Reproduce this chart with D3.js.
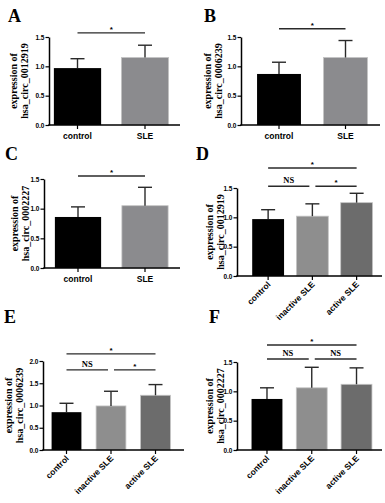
<!DOCTYPE html>
<html><head><meta charset="utf-8">
<script src="https://cdn.jsdelivr.net/npm/d3@7"></script>
<style>html,body{margin:0;padding:0;background:#fff;}svg{display:block;}</style>
</head><body>
<svg id="chart" width="385" height="503"></svg>
<script>
// ---------- data ----------
const catsTwo = ["control", "SLE"];
const catsThree = ["control", "inactive SLE", "active SLE"];
const circIds = ["hsa_circ_0012919", "hsa_circ_0006239", "hsa_circ_0002227", "hsa_circ_0012919", "hsa_circ_0006239", "hsa_circ_0002227"];
const panelLetters = ["A", "B", "C", "D", "E", "F"];
const ticks15 = [0, 0.5, 1.0, 1.5];
const ticks20 = [0, 0.5, 1.0, 1.5, 2.0];
const meanA = [0.97, 1.15], errA = [0.16, 0.21];
const meanB = [0.87, 1.15], errB = [0.20, 0.29];
const meanC = [0.86, 1.05], errC = [0.17, 0.31];
const meanD = [0.97, 1.02, 1.25], errD = [0.16, 0.21, 0.16];
const meanE = [0.85, 0.99, 1.23], errE = [0.20, 0.33, 0.24];
const meanF = [0.87, 1.06, 1.12], errF = [0.19, 0.35, 0.28];
// significance brackets: [from, to, label, level]
const sigA = [[0, 1, "*", 1.57]];
const sigB = [[0, 1, "*", 1.64]];
const sigC = [[0, 1, "*", 1.55]];
const sigD = [[0, 2, "*", 1.84], [0, 1, "NS", 1.53], [1, 2, "*", 1.53]];
const sigE = [[0, 2, "*", 2.16], [0, 1, "NS", 1.80], [1, 2, "*", 1.80]];
const sigF = [[0, 2, "*", 1.79], [0, 1, "NS", 1.55], [1, 2, "NS", 1.55]];

// ---------- layout ----------
const colorsTwo = ["#000000", "#8b8b8e"];
const colorsThree = ["#000000", "#8e8e8e", "#6c6c6c"];
const panels = [
  {cats: catsTwo, mean: meanA, err: errA, sig: sigA, ticks: ticks15, colors: colorsTwo,
   axisX: 49, xEnd: 180, band: [43.75, 178.75], pad: 0.30, yRange: [125, 37], lab: [8, 22], ylabX: [13, 24], rotate: false},
  {cats: catsTwo, mean: meanB, err: errB, sig: sigB, ticks: ticks15, colors: colorsTwo,
   axisX: 241, xEnd: 380, band: [245.75, 378.75], pad: 0.34, yRange: [125, 37], lab: [204, 22], ylabX: [207, 218], rotate: false},
  {cats: catsTwo, mean: meanC, err: errC, sig: sigC, ticks: ticks15, colors: colorsTwo,
   axisX: 44, xEnd: 180, band: [44.5, 178.5], pad: 0.31, yRange: [268, 179], lab: [5, 160], ylabX: [14, 25], rotate: false},
  {cats: catsThree, mean: meanD, err: errD, sig: sigD, ticks: ticks15, colors: colorsThree,
   axisX: 237, xEnd: 382, band: [246, 378.75], pad: 0.28, yRange: [276, 188], lab: [196, 160], ylabX: [209, 220], rotate: true},
  {cats: catsThree, mean: meanE, err: errE, sig: sigE, ticks: ticks20, colors: colorsThree,
   axisX: 43, xEnd: 184, band: [44.25, 177.75], pad: 0.33, yRange: [450, 361], lab: [4, 323], ylabX: [8, 19], rotate: true},
  {cats: catsThree, mean: meanF, err: errF, sig: sigF, ticks: ticks15, colors: colorsThree,
   axisX: 237, xEnd: 382, band: [244.6, 378.9], pad: 0.31, yRange: [450, 362], lab: [209, 323], ylabX: [209, 220], rotate: true}
];

const svg = d3.select("#chart");
const serif = "'Liberation Serif','Times New Roman',serif";
const sans = "'Liberation Sans',Arial,sans-serif";

panels.forEach((p, i) => {
  const g = svg.append("g");
  const yMax = p.ticks[p.ticks.length - 1];
  const y = d3.scaleLinear().domain([0, yMax]).range(p.yRange);
  const x = d3.scaleBand().domain(p.cats).range(p.band).paddingInner(p.pad).paddingOuter(p.pad / 2);
  const bw = x.bandwidth();
  const cx = c => x(c) + bw / 2;

  // panel letter
  g.append("text").attr("x", p.lab[0]).attr("y", p.lab[1])
    .attr("font-family", serif).attr("font-weight", "bold").attr("font-size", 18)
    .text(panelLetters[i]);

  // bars
  g.selectAll("rect.bar").data(p.cats).join("rect")
    .attr("x", d => x(d)).attr("width", bw)
    .attr("y", (d, k) => y(p.mean[k]))
    .attr("height", (d, k) => y(0) - y(p.mean[k]))
    .attr("fill", (d, k) => p.colors[k])
    .attr("stroke", (d, k) => k === 0 ? "none" : "#c4c4c4").attr("stroke-width", 0.8);

  // error bars (upper only)
  const eb = g.selectAll("g.err").data(p.cats).join("g");
  eb.append("line")
    .attr("x1", d => cx(d)).attr("x2", d => cx(d))
    .attr("y1", (d, k) => y(p.mean[k])).attr("y2", (d, k) => y(p.mean[k] + p.err[k]))
    .attr("stroke", "#2a2a2a").attr("stroke-width", 1.4);
  eb.append("line")
    .attr("x1", d => cx(d) - 7).attr("x2", d => cx(d) + 7)
    .attr("y1", (d, k) => y(p.mean[k] + p.err[k])).attr("y2", (d, k) => y(p.mean[k] + p.err[k]))
    .attr("stroke", "#2a2a2a").attr("stroke-width", 1.4);

  // y axis
  const ya = g.append("g").attr("transform", `translate(${p.axisX},0)`)
    .call(d3.axisLeft(y).tickValues(p.ticks).tickFormat(d3.format(".1f")).tickSize(3.5).tickSizeOuter(0).tickPadding(1));
  ya.select(".domain").attr("stroke", "#000").attr("stroke-width", 1.5);
  ya.selectAll(".tick line").attr("stroke", "#000").attr("stroke-width", 1.2);
  ya.selectAll(".tick text").attr("font-family", sans).attr("font-weight", "bold").attr("font-size", 6.5).attr("fill", "#000");

  // x axis line
  g.append("line").attr("x1", p.axisX - 0.75).attr("x2", p.xEnd)
    .attr("y1", y(0)).attr("y2", y(0)).attr("stroke", "#000").attr("stroke-width", 1.5);
  const xa = g.append("g").attr("transform", `translate(0,${y(0)})`)
    .call(d3.axisBottom(x).tickSize(4).tickSizeOuter(0));
  xa.select(".domain").remove();
  xa.selectAll(".tick line").attr("stroke", "#000").attr("stroke-width", 1.2);
  const xt = xa.selectAll(".tick text").attr("font-family", sans).attr("font-weight", "bold")
    .attr("font-size", 8.5).attr("fill", "#000");
  if (p.rotate) {
    xt.attr("text-anchor", "end").attr("dy", null).attr("y", 0)
      .attr("transform", "translate(3,9) rotate(-45)");
  } else {
    xt.attr("y", 8).attr("dy", "0.71em");
  }

  // y label (two lines)
  const midY = (p.yRange[0] + p.yRange[1]) / 2;
  ["expression of", circIds[i]].forEach((t, li) => {
    g.append("text")
      .attr("transform", `translate(${p.ylabX[li] + 3.5},${midY}) rotate(-90)`)
      .attr("text-anchor", "middle")
      .attr("font-family", serif).attr("font-weight", "bold").attr("font-size", 10)
      .text(t);
  });

  // significance brackets
  p.sig.forEach(s => {
    const [a, b, lbl, lvl] = s;
    const adj = (b - a) === 1 && p.cats.length === 3;
    const x1 = cx(p.cats[a]) + (adj && a === 1 ? 3 : 0);
    const x2 = cx(p.cats[b]) - (adj && b === 1 ? 3 : 0);
    const yy = y(lvl);
    g.append("line").attr("x1", x1).attr("x2", x2).attr("y1", yy).attr("y2", yy)
      .attr("stroke", "#2a2a2a").attr("stroke-width", 1.4);
    g.append("text").attr("x", (x1 + x2) / 2).attr("y", lbl === "*" ? yy - 1 : yy - 3)
      .attr("text-anchor", "middle")
      .attr("font-family", lbl === "*" ? sans : serif).attr("font-weight", "bold")
      .attr("font-size", lbl === "*" ? 8 : 8.5)
      .text(lbl);
  });
});
</script>
</body></html>
